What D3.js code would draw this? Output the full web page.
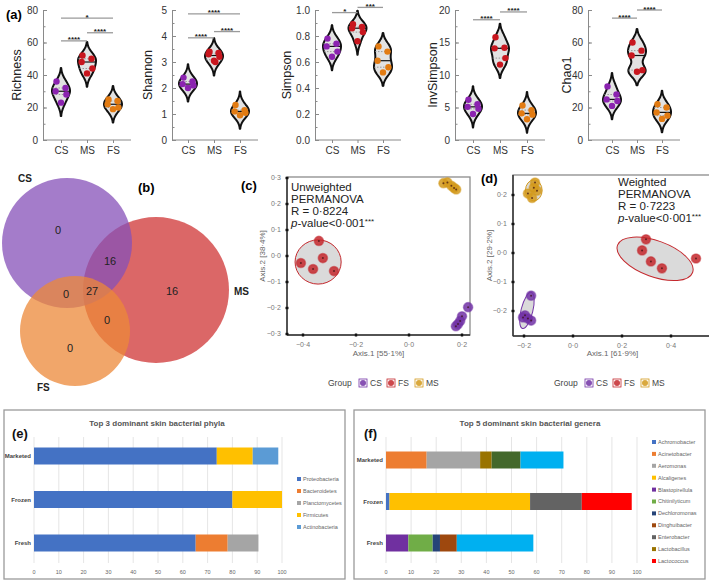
<!DOCTYPE html>
<html>
<head>
<meta charset="utf-8">
<script src="https://cdn.jsdelivr.net/npm/d3@7"></script>
<style>
body{margin:0;background:#fff}
svg{font-family:"Liberation Sans",Arial,sans-serif}
</style>
</head>
<body>
<svg id="fig" width="709" height="584"></svg>
<script>
// ---------- data ----------
const groups = ["CS", "MS", "FS"]
const groupColors = {CS: "#8b23b0", MS: "#c8161e", FS: "#e27b12"}

const metrics = ["Richness", "Shannon", "Simpson", "InvSimpson", "Chao1"]
const metricMax = [80, 5, 1, 20, 80]
const metricStep = [20, 1, 0.2, 5, 20]
const metricMinor = [10, 0.5, 0.1, 2.5, 10]

const richness = {CS: [36, 32, 30, 28, 23], MS: [52, 50, 48, 44, 41], FS: [25, 24, 22, 20, 19]}
const shannon = {CS: [2.4, 2.25, 2.15, 2.1, 2.0], MS: [3.4, 3.35, 3.3, 3.2, 3.05, 3.0], FS: [1.35, 1.15, 1.1, 1.05, 0.95]}
const simpson = {CS: [0.78, 0.74, 0.72, 0.68, 0.64], MS: [0.89, 0.87, 0.86, 0.83, 0.76], FS: [0.72, 0.68, 0.61, 0.56, 0.52]}
const invSimpson = {CS: [6.2, 5.5, 5.1, 4.8, 4.0], MS: [15.8, 14.2, 14.1, 12.6, 11.6], FS: [5.3, 4.6, 4.1, 3.9, 3.2]}
const chao1 = {CS: [33, 28, 25, 24, 21], MS: [60, 55, 52, 43, 42], FS: [22, 20, 17, 15, 13]}
const alphaValues = [richness, shannon, simpson, invSimpson, chao1]

// significance: [group1, group2, label, bracket height]
const sigRichness = [["CS", "MS", "****", 61], ["MS", "FS", "****", 66], ["CS", "FS", "*", 75]]
const sigShannon = [["CS", "MS", "****", 3.93], ["MS", "FS", "****", 4.17], ["CS", "FS", "****", 4.85]]
const sigSimpson = [["CS", "MS", "*", 0.98], ["MS", "FS", "***", 1.02]]
const sigInvSimpson = [["CS", "MS", "****", 18.5], ["MS", "FS", "****", 19.7]]
const sigChao1 = [["CS", "MS", "****", 75], ["MS", "FS", "****", 80]]
const sigAll = [sigRichness, sigShannon, sigSimpson, sigInvSimpson, sigChao1]

// venn counts
const vennNames = ["CS", "MS", "FS"]
const vennColors = ["#8650b8", "#cf3434", "#ec8838"]
const vennCounts = [0, 16, 0, 27, 16, 0, 0] // CS only, CS&MS, CS&FS, all, MS only, MS&FS, FS only

// PCoA coordinates
const uwCS = [[0.223, -0.197], [0.2, -0.232], [0.193, -0.25], [0.185, -0.262], [0.177, -0.27]]
const uwFS = [[-0.34, 0.058], [-0.325, -0.008], [-0.408, -0.027], [-0.362, -0.05], [-0.283, -0.058]]
const uwMS = [[0.13, 0.28], [0.145, 0.283], [0.16, 0.27], [0.17, 0.262], [0.178, 0.256]]
const wCS = [[-0.171, -0.147], [-0.196, -0.215], [-0.184, -0.226], [-0.171, -0.233], [-0.204, -0.222]]
const wFS = [[0.298, 0.047], [0.282, 0.009], [0.318, -0.029], [0.363, -0.053], [0.502, -0.019]]
const wMS = [[-0.155, 0.243], [-0.184, 0.205], [-0.147, 0.215], [-0.167, 0.19], [-0.16, 0.225]]
const pcoaColors = {CS: "#7232a6", FS: "#c4282d", MS: "#d39a1c"}
const pcoaTicks = [-0.4, -0.2, 0.0, 0.2, 0.4]
const pcoaYTicks = [-0.3, -0.2, -0.1, 0.0, 0.1, 0.2, 0.3]

// relative abundance
const sites = ["Marketed", "Frozen", "Fresh"]
const phyla = ["Proteobacteria", "Bacteroidetes", "Planctomycetes", "Firmicutes", "Actinobacteria"]
const phylaColors = ["#4472c4", "#ed7d31", "#a5a5a5", "#ffc000", "#5b9bd5"]
const phylaMarketed = [73.7, 0, 0, 14.5, 10.3]
const phylaFrozen = [80, 0, 0, 20, 0]
const phylaFresh = [65.2, 12.9, 12.4, 0, 0]

const genera = ["Achromobacter", "Acinetobacter", "Aeromonas", "Alcaligenes", "Blastopirellula", "Chitinilyticum",
  "Dechloromonas", "Dinghuibacter", "Enterobacter", "Lactobacillus", "Lactococcus", "Psychrobacter", "Pseudomonas"]
const generaColors = ["#4472c4", "#ed7d31", "#a5a5a5", "#ffc000", "#7030a0", "#70ad47",
  "#264478", "#9e480e", "#636363", "#997300", "#ff0000", "#43682b", "#00b0f0"]
const generaMarketed = [0, 16.2, 21.3, 0, 0, 0, 0, 0, 0, 4.6, 0, 11.5, 17.1]
const generaFrozen = [1.4, 0, 0, 56, 0, 0, 0, 0, 20.6, 0, 19.9, 0, 0]
const generaFresh = [0, 0, 0, 0, 8.9, 9.7, 2.9, 6.7, 0, 0, 0, 0, 30.5]
const pctTicks = d3.range(0, 101, 10)

// ---------- drawing ----------
const svg = d3.select("#fig")
const fmtDot = v => d3.format(".1f")(v).replace(".", "·")

// ===== (a) violins =====
const alphaLayout = [
  {left: 43, first: 61, last: 113, lab: 17},
  {left: 172, first: 188, last: 240, lab: 148},
  {left: 315, first: 332, last: 383, lab: 287},
  {left: 455, first: 473, last: 527, lab: 433},
  {left: 588, first: 612, last: 662, lab: 567}
]
const jitter = [-1, 1, -1.2, 1.2, 0, 0.3]

svg.append("text").attr("x", 6).attr("y", 19).attr("font-size", 13).attr("font-weight", "bold").text("(a)")

metrics.forEach((m, k) => {
  const L = alphaLayout[k]
  const max = metricMax[k]
  const y = d3.scaleLinear().domain([0, max]).range([140, 10])
  const x = d3.scalePoint().domain(groups).range([L.first, L.last])
  const g = svg.append("g")

  const fmt = max === 1 ? d3.format(".1f") : d3.format("d")
  const yAx = g.append("g").attr("transform", `translate(${L.left},0)`)
    .call(d3.axisLeft(y).tickValues(d3.range(0, max + 1e-9, metricStep[k])).tickSize(-4).tickSizeOuter(0).tickPadding(5).tickFormat(fmt))
  yAx.select(".domain").attr("stroke", "#8a8a8a")
  yAx.selectAll(".tick line").attr("stroke", "#8a8a8a")
  yAx.selectAll("text").attr("font-size", 10).attr("fill", "#333").attr("font-family", "Liberation Sans, Arial")
  const yMin = g.append("g").attr("transform", `translate(${L.left},0)`)
    .call(d3.axisLeft(y).tickValues(d3.range(0, max + 1e-9, metricMinor[k])).tickSize(-2.5).tickFormat(""))
  yMin.select(".domain").remove()
  yMin.selectAll(".tick line").attr("stroke", "#8a8a8a")

  g.append("line").attr("x1", L.left).attr("x2", L.last + 18).attr("y1", 140).attr("y2", 140).attr("stroke", "#8a8a8a")
  const xAx = g.append("g").attr("transform", "translate(0,140)").call(d3.axisBottom(x).tickSize(3).tickPadding(4))
  xAx.select(".domain").remove()
  xAx.selectAll(".tick line").attr("stroke", "#8a8a8a")
  xAx.selectAll("text").attr("font-size", 10).attr("fill", "#333").attr("font-family", "Liberation Sans, Arial")

  g.append("text").attr("transform", `translate(${L.lab},75) rotate(-90)`).attr("text-anchor", "middle")
    .attr("dy", "0.35em").attr("font-size", 12.5).attr("fill", "#222").text(m)

  const bw = max * 0.045
  const maxHalf = 9
  groups.forEach(gr => {
    const vals = alphaValues[k][gr]
    const cx = x(gr)
    const dens = t => d3.sum(vals, v => Math.exp(-0.5 * ((t - v) / bw) ** 2))
    const lo = d3.min(vals) - 2.3 * bw, hi = d3.max(vals) + 2.3 * bw
    const ts = d3.range(0, 41).map(i => lo + (hi - lo) * i / 40)
    const peak = d3.max(ts, dens)
    const half = t => dens(t) / peak * maxHalf
    const pts = [[cx, y(lo)]].concat(ts.map(t => [cx + half(t), y(t)]), [[cx, y(hi)]],
      ts.slice().reverse().map(t => [cx - half(t), y(t)]))
    g.append("path").attr("d", d3.line().curve(d3.curveCatmullRomClosed)(pts))
      .attr("fill", "#e2e2e2").attr("stroke", "#111").attr("stroke-width", 2)
    const sorted = vals.slice().sort(d3.ascending)
    ;[0.25, 0.75].forEach(q => {
      const t = d3.quantile(sorted, q)
      g.append("line").attr("x1", cx - half(t)).attr("x2", cx + half(t)).attr("y1", y(t)).attr("y2", y(t))
        .attr("stroke", "#888").attr("stroke-width", 0.8).attr("stroke-dasharray", "1.5,1.5")
    })
    const med = d3.median(sorted)
    g.append("line").attr("x1", cx - half(med)).attr("x2", cx + half(med)).attr("y1", y(med)).attr("y2", y(med))
      .attr("stroke", "#111").attr("stroke-width", 1.2)
    g.selectAll(null).data(vals).join("circle")
      .attr("cx", (d, i) => cx + jitter[i] * 4.5)
      .attr("cy", d => y(d))
      .attr("r", 3.2)
      .attr("fill", groupColors[gr])
  })

  sigAll[k].forEach(s => {
    const yy = y(s[3])
    g.append("line").attr("x1", x(s[0])).attr("x2", x(s[1])).attr("y1", yy).attr("y2", yy)
      .attr("stroke", "#9a9a9a").attr("stroke-width", 1.3)
    g.append("text").attr("x", (x(s[0]) + x(s[1])) / 2).attr("y", yy + 1.5).attr("text-anchor", "middle")
      .attr("font-size", 8).attr("font-weight", "bold").attr("fill", "#222").text(s[2])
  })
})

// ===== (b) venn =====
const vennCircles = [{cx: 67, cy: 243, r: 65}, {cx: 156, cy: 290, r: 73}, {cx: 75, cy: 331, r: 55}]
const vennDrawOrder = [1, 0, 2]
vennDrawOrder.forEach(i => {
  svg.append("circle").attr("cx", vennCircles[i].cx).attr("cy", vennCircles[i].cy).attr("r", vennCircles[i].r)
    .attr("fill", vennColors[i]).attr("fill-opacity", 0.75)
})
const vennLabelPos = [[58, 230], [110, 261], [66, 294], [92, 291], [172, 291], [107, 320], [70, 348]]
svg.selectAll(".vn").data(vennCounts).join("text")
  .attr("x", (d, i) => vennLabelPos[i][0]).attr("y", (d, i) => vennLabelPos[i][1])
  .attr("text-anchor", "middle").attr("dy", "0.35em").attr("font-size", 11).attr("fill", "#222")
  .text(d => d)
const vennNamePos = [[18, 182], [234, 295], [37, 391]]
vennNames.forEach((n, i) => {
  svg.append("text").attr("x", vennNamePos[i][0]).attr("y", vennNamePos[i][1])
    .attr("font-size", 10).attr("font-weight", "bold").attr("fill", "#222").text(n)
})
svg.append("text").attr("x", 138).attr("y", 192).attr("font-size", 13).attr("font-weight", "bold").text("(b)")

// ===== (c), (d) PCoA =====
function pcoa(opt) {
  const g = svg.append("g")
  const x = d3.scaleLinear().domain(opt.xDom).range(opt.xRange)
  const y = d3.scaleLinear().domain(opt.yDom).range(opt.yRange)
  const [x0, x1] = opt.box[0], [y0, y1] = opt.box[1]
  g.append("rect").attr("x", x0).attr("y", y0).attr("width", x1 - x0).attr("height", y1 - y0)
    .attr("fill", "none").attr("stroke", "#8c8c8c").attr("stroke-width", 1.3)
  g.append("line").attr("x1", x0).attr("x2", x0).attr("y1", y0).attr("y2", y1).attr("stroke", "#333").attr("stroke-width", 1.5)
  g.append("line").attr("x1", x0).attr("x2", x1).attr("y1", y1).attr("y2", y1).attr("stroke", "#333").attr("stroke-width", 1.5)

  const xt = opt.xTicks, yt = opt.yTicks
  g.selectAll(".xt").data(xt).join("rect").attr("x", d => x(d) - 1.2).attr("y", y1 - 1.5).attr("width", 2.4).attr("height", 3).attr("fill", "#111")
  g.selectAll(".xl").data(xt).join("text").attr("x", d => x(d)).attr("y", y1 + 12).attr("text-anchor", "middle")
    .attr("font-size", 7).attr("fill", "#777").text(d => fmtDot(d))
  g.selectAll(".yt").data(yt).join("rect").attr("x", x0 - 1.5).attr("y", d => y(d) - 1.2).attr("width", 3).attr("height", 2.4).attr("fill", "#111")
  g.selectAll(".yl").data(yt).join("text").attr("x", x0 - 6).attr("y", d => y(d)).attr("dy", "0.35em").attr("text-anchor", "end")
    .attr("font-size", 7).attr("fill", "#777").text(d => fmtDot(d))

  g.append("text").attr("x", (x0 + x1) / 2).attr("y", 356).attr("text-anchor", "middle").attr("font-size", 8)
    .attr("fill", "#666").text(opt.xLab)
  g.append("text").attr("transform", `translate(${opt.yLabX},${(y0 + y1) / 2}) rotate(-90)`).attr("text-anchor", "middle")
    .attr("font-size", 8).attr("fill", "#666").text(opt.yLab)

  opt.ellipses.forEach(e => {
    const cx = x(e.c[0]), cy = y(e.c[1])
    g.append("ellipse").attr("cx", cx).attr("cy", cy)
      .attr("rx", Math.abs(x(e.r[0]) - x(0))).attr("ry", Math.abs(y(e.r[1]) - y(0)))
      .attr("transform", `rotate(${e.a},${cx},${cy})`)
      .attr("fill", "#d4d4d4").attr("fill-opacity", 0.85).attr("stroke", pcoaColors[e.g]).attr("stroke-width", 1)
  })
  Object.entries(opt.points).forEach(([gr, pts]) => {
    g.selectAll(null).data(pts).join("circle").attr("cx", d => x(d[0])).attr("cy", d => y(d[1])).attr("r", 4.6)
      .attr("fill", pcoaColors[gr]).attr("fill-opacity", 0.85).attr("stroke", pcoaColors[gr]).attr("stroke-opacity", 0.5).attr("stroke-width", 1.5)
    g.selectAll(null).data(pts).join("circle").attr("cx", d => x(d[0])).attr("cy", d => y(d[1])).attr("r", 1)
      .attr("fill", "#3a1010").attr("fill-opacity", 0.7)
  })
  opt.text.forEach((t, i) => {
    const tx = g.append("text").attr("x", opt.textX).attr("y", opt.textY + i * 12).attr("font-size", 11.5).attr("fill", "#222")
    if (t.startsWith("p-")) {
      tx.append("tspan").attr("font-style", "italic").text("p")
      tx.append("tspan").text(t.slice(1).replace("***", ""))
      tx.append("tspan").attr("font-size", 8).attr("dy", -3).text("***")
    } else tx.text(t)
  })
  // legend
  const lg = g.append("g")
  lg.append("text").attr("x", opt.legX).attr("y", 386).attr("font-size", 8.5).attr("fill", "#444").text("Group")
  ;["CS", "FS", "MS"].forEach((gr, i) => {
    const lx = opt.legX + 31 + i * 28
    lg.append("rect").attr("x", lx).attr("y", 379).attr("width", 8).attr("height", 8).attr("fill", "#fff")
      .attr("stroke", pcoaColors[gr]).attr("stroke-width", 0.8)
    lg.append("circle").attr("cx", lx + 4).attr("cy", 383).attr("r", 3).attr("fill", pcoaColors[gr]).attr("fill-opacity", 0.85)
    lg.append("text").attr("x", lx + 11).attr("y", 386).attr("font-size", 8.5).attr("fill", "#444").text(gr)
  })
  g.append("text").attr("x", opt.tagX).attr("y", opt.tagY).attr("font-size", 13).attr("font-weight", "bold").text(opt.tag)
}

pcoa({
  box: [[287, 470], [177, 335]],
  xDom: [-0.4, 0.2], xRange: [303, 462],
  yDom: [-0.3, 0.3], yRange: [334, 178],
  xTicks: pcoaTicks.slice(0, 4), yTicks: pcoaYTicks,
  xLab: "Axis.1   [55·1%]", yLab: "Axis.2   [38·4%]", yLabX: 265,
  ellipses: [{g: "FS", c: [-0.343, -0.023], r: [0.087, 0.085], a: 0}],
  points: {MS: uwMS, FS: uwFS, CS: uwCS},
  text: ["Unweighted", "PERMANOVA", "R = 0·8224", "p-value<0·001***"], textX: 291, textY: 191,
  legX: 328, tag: "(c)", tagX: 241, tagY: 190
})

pcoa({
  box: [[513, 712], [175, 336]],
  xDom: [-0.2, 0.4], xRange: [524, 671],
  yDom: [-0.2, 0.2], yRange: [311, 195],
  xTicks: [-0.2, 0.0, 0.2, 0.4], yTicks: [-0.2, -0.1, 0.0, 0.1, 0.2],
  xLab: "Axis.1   [61·9%]", yLab: "Axis.2   [29·2%]", yLabX: 492,
  ellipses: [
    {g: "FS", c: [0.335, -0.02], r: [0.163, 0.062], a: 20},
    {g: "CS", c: [-0.188, -0.198], r: [0.024, 0.064], a: 14},
    {g: "MS", c: [-0.16, 0.216], r: [0.034, 0.036], a: 0}
  ],
  points: {MS: wMS, FS: wFS, CS: wCS},
  text: ["Weighted", "PERMANOVA", "R = 0·7223", "p-value<0·001***"], textX: 618, textY: 186,
  legX: 554, tag: "(d)", tagX: 481, tagY: 183
})

// ===== (e), (f) stacked bars =====
function stacked(opt) {
  const g = svg.append("g")
  g.append("rect").attr("x", opt.box[0]).attr("y", 410).attr("width", opt.box[1] - opt.box[0]).attr("height", 169)
    .attr("fill", "#fff").attr("stroke", "#9a9a9a").attr("stroke-width", 1.3)
  const x = d3.scaleLinear().domain([0, 100]).range(opt.xRange)
  const y = d3.scalePoint().domain(sites).range(opt.yRange)
  g.selectAll(".grid").data(pctTicks).join("line").attr("x1", d => x(d)).attr("x2", d => x(d))
    .attr("y1", 437).attr("y2", 563).attr("stroke", "#dedede").attr("stroke-width", 0.8)
  g.selectAll(".xl").data(pctTicks).join("text").attr("x", d => x(d)).attr("y", 574).attr("text-anchor", "middle")
    .attr("font-size", 5.5).attr("fill", "#666").text(d => d)
  g.selectAll(".yl").data(sites).join("text").attr("x", opt.xRange[0] - 3).attr("y", d => y(d)).attr("dy", "0.35em")
    .attr("text-anchor", "end").attr("font-size", 6).attr("font-weight", "bold").attr("fill", "#444").text(d => d)

  const rows = sites.map((s, i) => {
    const o = {site: s}
    opt.keys.forEach((k, j) => o[k] = opt.values[i][j])
    return o
  })
  const series = d3.stack().keys(opt.keys)(rows)
  series.forEach((se, j) => {
    g.selectAll(null).data(se).join("rect")
      .attr("x", d => x(d[0])).attr("width", d => x(d[1]) - x(d[0]))
      .attr("y", d => y(d.data.site) - 8.5).attr("height", 17)
      .attr("fill", opt.colors[j])
  })
  g.append("text").attr("x", opt.titleX).attr("y", 426).attr("text-anchor", "middle").attr("font-size", 8)
    .attr("font-weight", "bold").attr("fill", "#555").text(opt.title)
  g.append("text").attr("x", opt.tagX).attr("y", 438).attr("font-size", 13).attr("font-weight", "bold").attr("fill", "#111").text(opt.tag)

  const shown = opt.keys.slice(0, opt.legendCount)
  g.selectAll(".lgr").data(shown).join("rect").attr("x", opt.legX).attr("y", (d, i) => opt.legY + i * opt.legStep - 2)
    .attr("width", 4).attr("height", 4).attr("fill", (d, i) => opt.colors[i])
  g.selectAll(".lgt").data(shown).join("text").attr("x", opt.legX + 6).attr("y", (d, i) => opt.legY + i * opt.legStep)
    .attr("dy", "0.35em").attr("font-size", 5.5).attr("fill", "#666").text(d => d)
}

stacked({
  box: [4, 345], xRange: [34, 282], yRange: [456, 543],
  keys: phyla, colors: phylaColors, values: [phylaMarketed, phylaFrozen, phylaFresh],
  title: "Top 3 dominant skin bacterial phyla", titleX: 157, tag: "(e)", tagX: 12,
  legendCount: 5, legX: 297, legY: 479, legStep: 12
})

stacked({
  box: [354, 705], xRange: [386, 637], yRange: [460, 543],
  keys: genera, colors: generaColors, values: [generaMarketed, generaFrozen, generaFresh],
  title: "Top 5 dominant skin bacterial genera", titleX: 530, tag: "(f)", tagX: 364,
  legendCount: 11, legX: 652, legY: 442, legStep: 11.9
})
</script>
</body>
</html>
